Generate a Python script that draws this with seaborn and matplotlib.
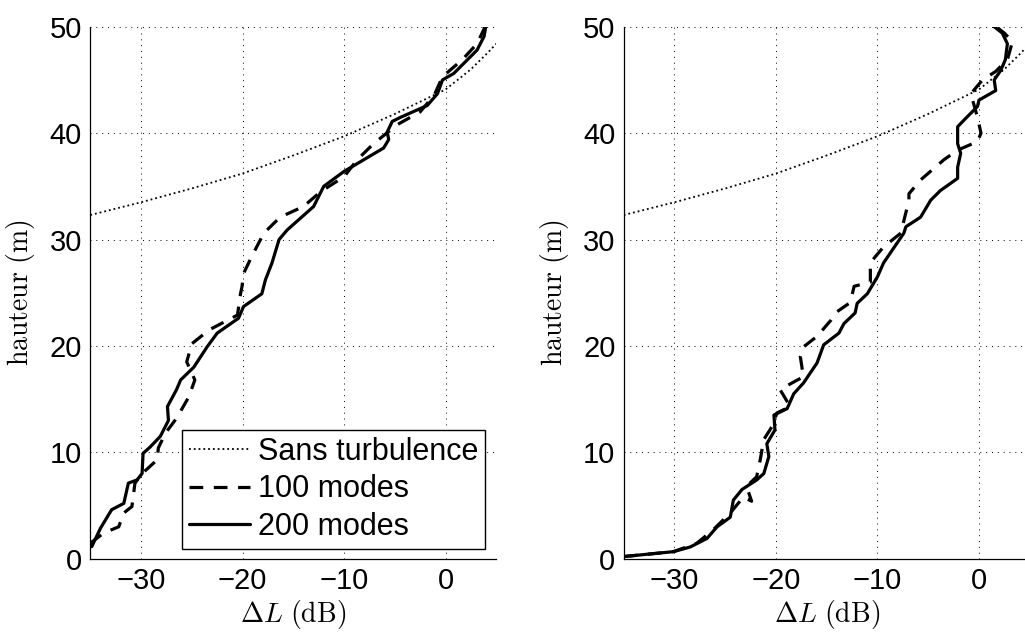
import matplotlib
matplotlib.use("Agg")
import matplotlib.pyplot as plt
import seaborn as sns
import numpy as np

# ---- data ----
ref_x = [-35, -30, -25, -20, -15, -10, -5, 0, 2.5, 4.1, 5]
ref_y = [32.3, 33.5, 34.8, 36.2, 37.9, 39.7, 41.8, 44.1, 46.0, 47.5, 48.4]

l100_x = [-35.0, -33.7, -32.2, -31.7, -30.9, -30.6, -29.9, -28.4, -28.3, -27.6, -26.5, -25.3, -24.7,
          -25.5, -25.0, -23.3, -20.5, -20.2, -20.05, -19.9, -19.1, -17.9, -16.3, -14.0, -12.3, -10.0,
          -8.7, -7.1, -4.75, -2.5, -1.1, -0.3, 1.65, 3.1, 3.9]
l100_y = [1.45, 2.4, 3.0, 4.3, 4.9, 7.1, 8.0, 9.3, 10.4, 11.8, 13.2, 15.2, 16.8,
          18.5, 20.2, 21.5, 22.9, 24.9, 25.6, 26.8, 28.4, 30.6, 32.1, 33.1, 34.5, 35.9,
          37.5, 39.0, 40.8, 42.0, 43.6, 45.3, 46.9, 48.4, 50.0]

l200_x = [-34.86, -34.0, -32.9, -31.7, -31.25, -30.4, -29.9, -29.8, -29.1, -28.1, -27.3, -27.4, -26.5,
          -26.1, -24.8, -23.5, -22.5, -20.4, -19.9, -18.1, -17.75, -17.1, -16.4, -15.6, -13.0, -12.0,
          -10.0, -8.05, -6.1, -5.6, -5.75, -5.25, -4.4, -1.8, -0.8, -0.3, 0.8, 3.1, 3.8, 3.96]
l200_y = [1.13, 2.86, 4.6, 5.2, 7.1, 7.4, 8.0, 9.9, 10.5, 11.5, 13.0, 14.3, 15.9,
          16.8, 18.0, 19.9, 21.2, 22.6, 23.7, 24.9, 26.2, 27.8, 30.0, 30.9, 33.1, 35.0,
          36.4, 37.5, 38.6, 39.4, 40.1, 41.1, 41.5, 42.6, 43.7, 45.0, 45.6, 47.8, 49.1, 50.0]

r100_x = [-35.0, -30.1, -27.8, -26.2, -24.5, -23.2, -22.4, -22.9, -21.9, -21.55, -21.2, -20.4, -19.9,
          -18.6, -19.6, -17.3, -17.6, -17.3, -15.95, -14.6, -14.15, -12.8, -12.6, -12.3, -10.7, -10.7,
          -10.2, -9.4, -7.7, -6.9, -6.9, -5.75, -3.45, -2.1, -0.15, 0.2, -0.15, -0.8, 0.35, 1.65,
          2.8, 3.3, 2.5, 1.7]
r100_y = [0.2, 0.66, 1.45, 2.7, 4.3, 5.8, 5.4, 6.8, 7.7, 9.3, 11.2, 12.4, 13.7,
          14.3, 15.9, 17.1, 19.0, 19.9, 20.9, 22.4, 23.1, 24.0, 24.4, 25.6, 26.0, 27.8,
          28.4, 29.3, 30.6, 33.7, 34.3, 35.6, 37.5, 38.4, 39.2, 40.0, 41.5, 43.7, 45.0, 45.8,
          46.9, 48.6, 49.4, 50.0]

r200_x = [-35.0, -30.1, -28.45, -26.8, -25.8, -24.5, -24.2, -23.35, -21.9, -21.2, -20.7, -20.9, -20.1,
          -20.2, -18.9, -18.25, -17.3, -15.95, -15.3, -13.8, -13.3, -12.2, -12.0, -11.0, -10.0, -9.4,
          -7.4, -7.2, -5.75, -4.75, -3.8, -2.1, -2.1, -1.8, -2.1, -2.1, -1.5, -0.15, 0.0, 1.65,
          1.5, 2.15, 2.6, 2.8, 2.3, 1.5]
r200_y = [0.2, 0.66, 1.1, 1.9, 3.0, 3.9, 5.5, 6.5, 7.4, 8.0, 9.6, 10.8, 12.1,
          13.5, 14.1, 15.5, 16.5, 18.4, 20.1, 21.2, 22.1, 23.1, 24.0, 24.9, 26.5, 27.8,
          30.6, 31.2, 32.1, 33.7, 34.6, 35.75, 36.8, 38.1, 39.0, 40.6, 41.2, 42.5, 43.1, 44.0,
          45.0, 45.9, 46.9, 48.4, 49.4, 50.0]

xticks = [-30, -20, -10, 0]
xticklabels = ["\u221230", "\u221220", "\u221210", "0"]
yticks = [0, 10, 20, 30, 40, 50]
labels = ["Sans turbulence", "100 modes", "200 modes"]

# ---- style ----
sns.set_style("white")
plt.rcParams["font.family"] = ["Liberation Sans", "DejaVu Sans"]
plt.rcParams["mathtext.fontset"] = "cm"
plt.rcParams["text.color"] = "black"
plt.rcParams["axes.labelcolor"] = "black"

fig = plt.figure(figsize=(10.25, 6.33), dpi=100)
ax1 = fig.add_axes([0.0881, 0.1174, 0.3961, 0.8404])
ax2 = fig.add_axes([0.6085, 0.1174, 0.3961, 0.8404])

dash = (4.3, 3.3)
for i, (ax, dx, dy, sx, sy) in enumerate([(ax1, l100_x, l100_y, l200_x, l200_y),
                                          (ax2, r100_x, r100_y, r200_x, r200_y)]):
    show = (i == 0)
    sns.lineplot(x=ref_x, y=ref_y, ax=ax, color="black", linewidth=1.3, linestyle=":",
                 sort=False, estimator=None, label=labels[0] if show else None, legend=False)
    sns.lineplot(x=dx, y=dy, ax=ax, color="black", linewidth=2.3,
                 sort=False, estimator=None, label=labels[1] if show else None, legend=False)
    ax.lines[-1].set_dashes(dash)
    sns.lineplot(x=sx, y=sy, ax=ax, color="black", linewidth=2.3,
                 sort=False, estimator=None, label=labels[2] if show else None, legend=False)

    ax.set_xlim(-35, 5)
    ax.set_ylim(0, 50)
    ax.set_xticks(xticks)
    ax.set_yticks(yticks)
    ax.set_xticklabels(xticklabels)
    ax.tick_params(direction="in", length=4, width=0.8, labelsize=21, pad=6, colors="black")
    ax.grid(True, linestyle=(0, (1, 5)), color="black", linewidth=0.7)
    for s in ["top", "right"]:
        ax.spines[s].set_visible(False)
    for s in ["left", "bottom"]:
        ax.spines[s].set_color("black")
        ax.spines[s].set_linewidth(0.9)
    ax.set_xlabel(r"$\Delta L\ \mathrm{(dB)}$", fontsize=20, labelpad=2)
    ax.set_ylabel(r"$\mathrm{hauteur\ (m)}$", fontsize=20, labelpad=9)
    ax.set_facecolor("white")

leg = ax1.legend(loc="lower right", bbox_to_anchor=(0.973, 0.0188), fontsize=22,
                 frameon=True, fancybox=False, edgecolor="black", framealpha=1,
                 handlelength=2.0, handletextpad=0.27, labelspacing=0.25,
                 borderpad=0.22, borderaxespad=0, labelcolor="black")
leg.get_frame().set_linewidth(1.0)
for h in leg.get_lines():
    if h.get_label() == labels[1]:
        h.set_dashes(dash)

fig.savefig("out.png", dpi=100, facecolor="white")
